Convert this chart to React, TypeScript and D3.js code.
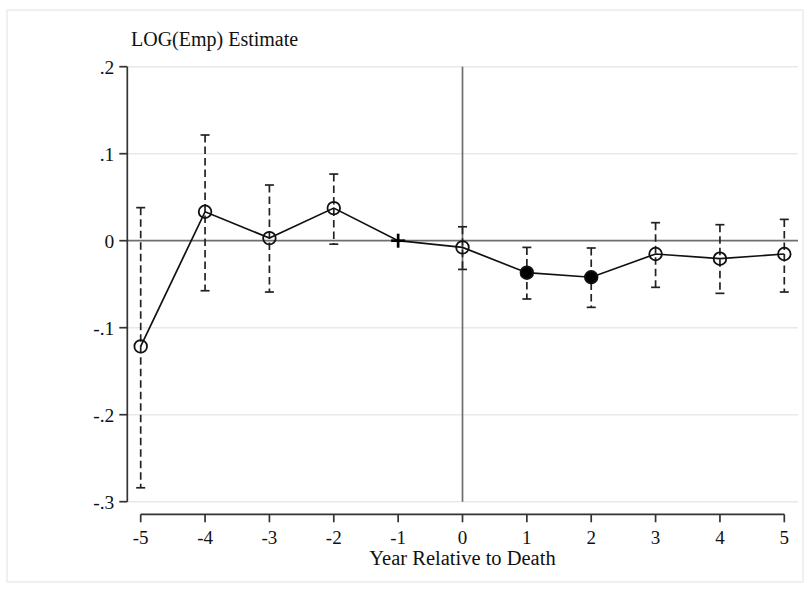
import React from "react";
import * as d3 from "d3";

const years = [-5, -4, -3, -2, -1, 0, 1, 2, 3, 4, 5];
const estimates = [-0.1215, 0.0333, 0.003, 0.0375, 0, -0.0077, -0.0368, -0.042, -0.0153, -0.0207, -0.0153];
const ciLow = [-0.284, -0.0575, -0.059, -0.004, null, -0.033, -0.067, -0.0766, -0.0536, -0.0605, -0.059];
const ciHigh = [0.038, 0.1215, 0.064, 0.0766, null, 0.016, -0.0077, -0.0084, 0.0207, 0.0184, 0.0245];
const markerType = ["open", "open", "open", "open", "plus", "open", "filled", "filled", "open", "open", "open"];
const yTicks = [0.2, 0.1, 0, -0.1, -0.2, -0.3];
const yTickLabels = [".2", ".1", "0", "-.1", "-.2", "-.3"];
const xTicks = [-5, -4, -3, -2, -1, 0, 1, 2, 3, 4, 5];

const W = 810;
const H = 592;

export default function App() {
  const x = d3.scaleLinear().domain([-5, 5]).range([140.7, 784.3]);
  const y = d3.scaleLinear().domain([-0.3, 0.2]).range([501.7, 66.7]);
  const axisX = 127.3;
  const axisY = 514.3;
  const gridRight = 798;
  const font = "'Liberation Serif', 'Times New Roman', serif";

  const line = d3
    .line<number>()
    .x((_, i) => x(years[i]))
    .y((d) => y(d));

  return (
    <svg
      width={W}
      height={H}
      style={{ position: "absolute", left: 0, top: 0, display: "block", background: "#fff" }}
    >
      <rect x={7} y={10} width={796} height={572} fill="#fff" stroke="#f0f0f0" strokeWidth={2} />
      {/* grid lines */}
      {yTicks
        .filter((t) => t !== 0)
        .map((t) => (
          <line key={"g" + t} x1={axisX} x2={gridRight} y1={y(t)} y2={y(t)} stroke="#e9e9e9" strokeWidth={1.5} />
        ))}
      {/* zero line */}
      <line x1={axisX} x2={gridRight} y1={y(0)} y2={y(0)} stroke="#6e6e6e" strokeWidth={1.7} />
      {/* vertical line at 0 */}
      <line x1={x(0)} x2={x(0)} y1={y(0.2)} y2={y(-0.3)} stroke="#6e6e6e" strokeWidth={1.7} />

      {/* y axis */}
      <line x1={axisX} x2={axisX} y1={y(0.2)} y2={y(-0.3)} stroke="#333" strokeWidth={1.7} />
      {yTicks.map((t, i) => (
        <g key={"yt" + t}>
          <line x1={axisX - 8} x2={axisX} y1={y(t)} y2={y(t)} stroke="#333" strokeWidth={1.7} />
          <text x={axisX - 13} y={y(t) + 7} textAnchor="end" fontFamily={font} fontSize={19.5} fill="#111">
            {yTickLabels[i]}
          </text>
        </g>
      ))}

      {/* x axis */}
      <line x1={x(-5)} x2={x(5)} y1={axisY} y2={axisY} stroke="#333" strokeWidth={1.7} />
      {xTicks.map((t) => (
        <g key={"xt" + t}>
          <line x1={x(t)} x2={x(t)} y1={axisY} y2={axisY + 8} stroke="#333" strokeWidth={1.7} />
          <text x={x(t)} y={544} textAnchor="middle" fontFamily={font} fontSize={19} fill="#111">
            {String(t)}
          </text>
        </g>
      ))}
      <text x={x(0)} y={565} textAnchor="middle" fontFamily={font} fontSize={20.5} fill="#111">
        Year Relative to Death
      </text>
      <text x={131} y={46} fontFamily={font} fontSize={20} fill="#111">
        LOG(Emp) Estimate
      </text>

      {/* confidence intervals */}
      {years.map((yr, i) => {
        const lo = ciLow[i];
        const hi = ciHigh[i];
        if (lo === null || hi === null) return null;
        const cx = x(yr);
        return (
          <g key={"ci" + yr} stroke="#222" strokeWidth={1.7}>
            <line x1={cx} x2={cx} y1={y(hi)} y2={y(lo)} strokeDasharray="7.5,4" />
            <line x1={cx - 4.5} x2={cx + 4.5} y1={y(hi)} y2={y(hi)} />
            <line x1={cx - 4.5} x2={cx + 4.5} y1={y(lo)} y2={y(lo)} />
          </g>
        );
      })}

      {/* connecting line */}
      <path d={line(estimates) || ""} fill="none" stroke="#111" strokeWidth={1.7} />

      {/* markers */}
      {years.map((yr, i) => {
        const cx = x(yr);
        const cy = y(estimates[i]);
        const m = markerType[i];
        if (m === "plus") {
          return (
            <g key={"m" + yr} stroke="#000" strokeWidth={2.7}>
              <line x1={cx - 7} x2={cx + 7} y1={cy} y2={cy} />
              <line x1={cx} x2={cx} y1={cy - 7} y2={cy + 7} />
            </g>
          );
        }
        return (
          <circle
            key={"m" + yr}
            cx={cx}
            cy={cy}
            r={6.3}
            fill={m === "filled" ? "#000" : "none"}
            stroke="#111"
            strokeWidth={1.8}
          />
        );
      })}
    </svg>
  );
}
